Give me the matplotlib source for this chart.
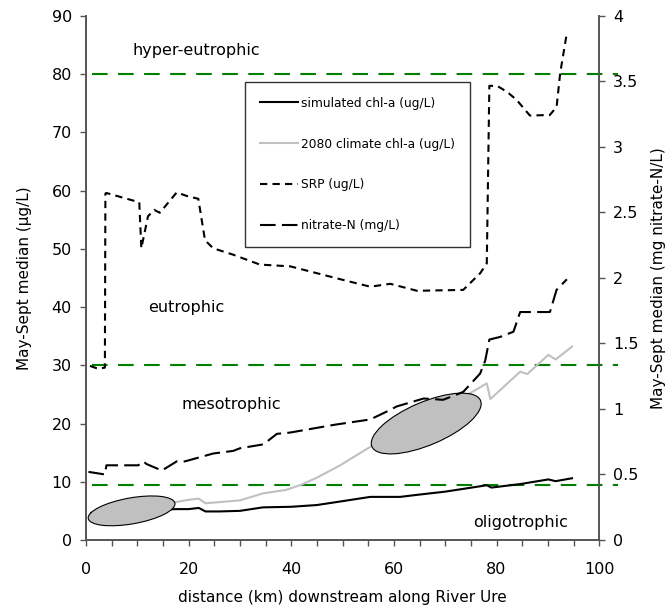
import numpy as np
import matplotlib
matplotlib.use("Agg")
import matplotlib.pyplot as plt
from matplotlib.patches import Ellipse
from matplotlib.transforms import ScaledTranslation
from matplotlib.ticker import FuncFormatter, MultipleLocator

plt.rcParams['font.family'] = ['DejaVu Sans']

# DATA

# simulated chl-a (ug/L), left axis
chl_km  = [1, 5, 10, 15, 17.5, 20, 22, 23.3, 26, 30, 34.5, 40, 45, 49.5, 55.4, 61.2, 65, 70, 78.1, 79, 84.6, 90.1, 91.5, 94.7]
chl_val = [4.6, 4.8, 5.0, 5.2, 5.3, 5.3, 5.5, 4.9, 4.9, 5.0, 5.6, 5.7, 6.0, 6.6, 7.4, 7.4, 7.8, 8.3, 9.4, 9.0, 9.6, 10.4, 10.1, 10.6]

# 2080 climate chl-a (ug/L), left axis
clim_km  = [1, 5, 10, 15, 17.5, 20, 22, 23.3, 30, 34.5, 39, 42, 45, 49.5, 55.4, 60, 65, 70, 75, 78.1, 78.8, 84.6, 86, 90.1, 91.5, 94.7]
clim_val = [4.7, 5.0, 5.5, 6.1, 6.5, 6.9, 7.1, 6.3, 6.8, 8.0, 8.6, 9.5, 10.7, 12.8, 16.0, 18.5, 21.0, 23.0, 25.3, 26.9, 24.2, 28.9, 28.5, 31.8, 31.0, 33.2]

# SRP (ug/L), left axis
srp_km  = [0.8, 2.4, 3.7, 3.8, 4.0, 10.4, 10.8, 12.1, 13.3, 14.4, 17.7, 19.6, 21.9, 23.2, 24.8, 28.7, 33.9, 39.8, 49.5,
           55.4, 59.3, 64.5, 73.5, 76.8, 78.1, 78.6, 80.1, 82.0, 83.9, 86.5, 90.4, 91.7, 92.4, 93.7]
srp_val = [29.9, 29.4, 29.6, 59.5, 59.6, 58.0, 50.1, 55.6, 56.7, 56.2, 59.7, 59.1, 58.6, 51.5, 50.1, 49.0, 47.3, 47.0, 44.8,
           43.5, 44.0, 42.8, 42.95, 45.8, 47.5, 78.0, 78.0, 77.0, 75.6, 72.9, 73.0, 74.4, 80.2, 87.1]

# nitrate-N (mg/L), right axis
no3_km  = [0.5, 2.1, 3.7, 4.0, 10.2, 11.2, 11.8, 14.8, 17.7, 19.3, 24.8, 28.7, 30.0, 34.6, 37.2, 39.8, 48.5,
           55.4, 58.6, 60.6, 65.8, 69.6, 73.5, 76.8, 77.8, 78.6, 80.7, 83.3, 84.6, 90.4, 91.7, 93.7]
no3_val = [0.52, 0.51, 0.50, 0.57, 0.57, 0.60, 0.58, 0.53, 0.60, 0.60, 0.66, 0.68, 0.70, 0.73, 0.81, 0.82, 0.88,
           0.92, 0.98, 1.02, 1.08, 1.07, 1.13, 1.27, 1.37, 1.53, 1.55, 1.59, 1.74, 1.74, 1.91, 1.99]

# trophic class boundaries (ug/L chl-a) and labels
bounds = [9.4, 30, 80]
zone_names = ["hyper-eutrophic", "eutrophic", "mesotrophic", "oligotrophic"]
zone_km    = [21.6, 19.6, 28.4, 84.6]
zone_y     = [84.0, 39.9, 23.2, 3.0]

# PLOT

fig = plt.figure(figsize=(6.71, 6.15), dpi=100)
ax = fig.add_axes([0.128, 0.122, 0.765, 0.852])
ax2 = ax.twinx()

spine_col = "#555555"
lw = 1.5

l1, = ax.plot(chl_km, chl_val, color="black", lw=lw, label="simulated chl-a (ug/L)", zorder=3)
l2, = ax.plot(clim_km, clim_val, color="#c0c0c0", lw=lw, label="2080 climate chl-a (ug/L)", zorder=2)
l3, = ax.plot(srp_km, srp_val, color="black", lw=lw, dashes=(3.5, 2.5), label="SRP (ug/L)", zorder=3)
l4, = ax2.plot(no3_km, no3_val, color="black", lw=lw, dashes=(7.5, 3), label="nitrate-N (mg/L)")

for b in bounds:
    ax.plot([1.2, 103.7], [b, b], color="#008000", lw=1.5, dashes=(7.5, 5), clip_on=False, zorder=1)

for name, xk, yv in zip(zone_names, zone_km, zone_y):
    ax.text(xk, yv, name, ha="center", va="center", fontsize=11.5)

# grey ellipses (sizes in inches, centred on data points)
for cx, cy, w, h, ang in [(8.9, 5.0, 0.88, 0.26, 10), (66.3, 20.0, 1.18, 0.43, 23)]:
    tr = fig.dpi_scale_trans + ScaledTranslation(cx, cy, ax.transData)
    ax.add_patch(Ellipse((0, 0), w, h, angle=ang, transform=tr, facecolor="#c0c0c0",
                         edgecolor="black", lw=0.8, zorder=4))

ax.set_xlim(0, 100)
ax.set_ylim(0, 90)
ax2.set_ylim(0, 4)
ax.xaxis.set_major_locator(MultipleLocator(20))
ax.xaxis.set_minor_locator(MultipleLocator(5))
ax.yaxis.set_major_locator(MultipleLocator(10))
ax2.yaxis.set_major_locator(MultipleLocator(0.5))
ax2.yaxis.set_major_formatter(FuncFormatter(lambda v, p: f"{v:g}"))

for a in (ax, ax2):
    a.spines["top"].set_visible(False)
    for s in a.spines.values():
        s.set_color(spine_col)
        s.set_linewidth(1.2)
    a.tick_params(which="both", direction="out", length=4, width=1, color=spine_col,
                  labelsize=11.5, pad=6)
ax.tick_params(axis="x", which="both", pad=12)

ax.set_xlabel("distance (km) downstream along River Ure", fontsize=11, labelpad=9)
ax.set_ylabel("May-Sept median (\u00b5g/L)", fontsize=11, labelpad=14)
ax2.set_ylabel("May-Sept median (mg nitrate-N/L)", fontsize=11, labelpad=9)

leg = ax.legend([l1, l2, l3, l4], [l.get_label() for l in (l1, l2, l3, l4)],
                loc="upper left", bbox_to_anchor=(0.31, 0.874), fontsize=8.8,
                labelspacing=2.28, borderpad=1.2, handlelength=3.1, handletextpad=0.3,
                borderaxespad=0, frameon=True, fancybox=False)
leg.get_frame().set_edgecolor("black")
leg.get_frame().set_linewidth(1)
leg.set_zorder(5)

fig.savefig("out.png", dpi=100)
